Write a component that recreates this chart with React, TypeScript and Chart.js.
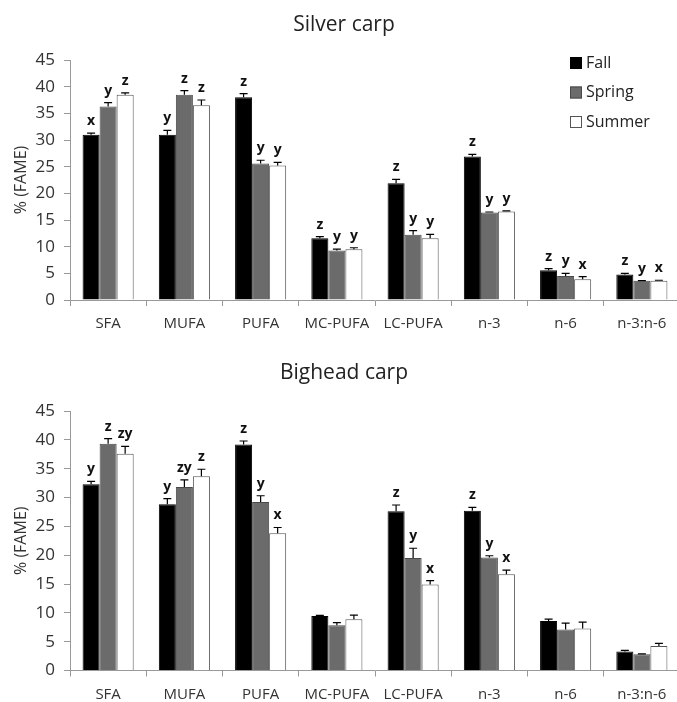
import React, { useEffect, useRef } from 'react';
import { Chart, registerables } from 'chart.js';

Chart.register(...registerables);

const FONT = '"Open Sans", "DejaVu Sans", sans-serif';

const categories = ['SFA', 'MUFA', 'PUFA', 'MC-PUFA', 'LC-PUFA', 'n-3', 'n-6', 'n-3:n-6'];
const seasons = ['Fall', 'Spring', 'Summer'];
const yTicks = [0, 5, 10, 15, 20, 25, 30, 35, 40, 45];

// Silver carp
const silverFall = [31.0, 31.0, 38.0, 11.6, 21.9, 26.9, 5.6, 4.8];
const silverFallErr = [0.3, 0.8, 0.7, 0.3, 0.7, 0.4, 0.3, 0.2];
const silverFallLetters = ['x', 'y', 'z', 'z', 'z', 'z', 'z', 'z'];
const silverSpring = [36.3, 38.5, 25.6, 9.3, 12.25, 16.4, 4.5, 3.6];
const silverSpringErr = [0.7, 0.75, 0.6, 0.25, 0.75, 0.1, 0.5, 0.05];
const silverSpringLetters = ['y', 'z', 'y', 'y', 'y', 'y', 'y', 'y'];
const silverSummer = [38.5, 36.5, 25.2, 9.5, 11.6, 16.6, 3.9, 3.6];
const silverSummerErr = [0.35, 1.0, 0.6, 0.3, 0.7, 0.1, 0.5, 0.1];
const silverSummerLetters = ['z', 'z', 'y', 'y', 'y', 'y', 'x', 'x'];

// Bighead carp
const bigheadFall = [32.3, 28.85, 39.2, 9.45, 27.6, 27.7, 8.6, 3.3];
const bigheadFallErr = [0.5, 0.95, 0.6, 0.1, 1.1, 0.6, 0.3, 0.2];
const bigheadFallLetters = ['y', 'y', 'z', '', 'z', 'z', '', ''];
const bigheadSpring = [39.3, 31.8, 29.2, 7.85, 19.5, 19.6, 7.1, 2.8];
const bigheadSpringErr = [0.9, 1.25, 1.1, 0.45, 1.7, 0.3, 1.1, 0.1];
const bigheadSpringLetters = ['z', 'zy', 'y', '', 'y', 'y', '', ''];
const bigheadSummer = [37.6, 33.7, 23.8, 8.9, 14.9, 16.7, 7.3, 4.25];
const bigheadSummerErr = [1.25, 1.2, 1.0, 0.7, 0.7, 0.7, 1.1, 0.45];
const bigheadSummerLetters = ['zy', 'z', 'x', '', 'x', 'x', '', ''];

const fillColors = ['#000000', '#6b6b6b', '#ffffff'];
const borderColors = ['#000000', '#4a4a4a', '#555555'];

function makeDatasets(values: number[][], errs: number[][], letters: string[][]) {
  return seasons.map((s, i) => ({
    label: s,
    data: values[i],
    errors: errs[i],
    letters: letters[i],
    backgroundColor: fillColors[i],
    borderColor: borderColors[i],
    borderWidth: 1,
    categoryPercentage: 0.67,
    barPercentage: 1.0,
  }));
}

const errorBarPlugin = {
  id: 'errorBars',
  afterDatasetsDraw(chart: any) {
    const ctx = chart.ctx;
    const yScale = chart.scales.y;
    ctx.save();
    chart.data.datasets.forEach((ds: any, i: number) => {
      const meta = chart.getDatasetMeta(i);
      meta.data.forEach((el: any, j: number) => {
        const v = ds.data[j];
        const e = ds.errors[j];
        const yTop = yScale.getPixelForValue(v + e);
        const x = el.x;
        ctx.strokeStyle = '#000';
        ctx.lineWidth = 1.2;
        ctx.beginPath();
        ctx.moveTo(x, el.y);
        ctx.lineTo(x, yTop);
        ctx.moveTo(x - 4, yTop);
        ctx.lineTo(x + 4, yTop);
        ctx.stroke();
        const letter = ds.letters[j];
        if (letter) {
          ctx.fillStyle = '#111';
          ctx.font = `bold 14px ${FONT}`;
          ctx.textAlign = 'center';
          ctx.textBaseline = 'alphabetic';
          ctx.fillText(letter, x, yTop - 8);
        }
      });
    });
    ctx.restore();
  },
};

const insideLegendPlugin = {
  id: 'insideLegend',
  afterDraw(chart: any, _args: any, opts: any) {
    if (!opts || !opts.show) return;
    const ctx = chart.ctx;
    const area = chart.chartArea;
    ctx.save();
    chart.data.datasets.forEach((ds: any, i: number) => {
      const cy = area.top + 3 + i * 29.5;
      const bx = area.right - 110;
      ctx.fillStyle = ds.backgroundColor;
      ctx.fillRect(bx, cy - 6, 12, 12);
      ctx.strokeStyle = ds.borderColor;
      ctx.lineWidth = 1;
      ctx.strokeRect(bx + 0.5, cy - 5.5, 11, 11);
      ctx.fillStyle = '#222';
      ctx.font = `16px ${FONT}`;
      ctx.textAlign = 'left';
      ctx.textBaseline = 'middle';
      ctx.fillText(ds.label, bx + 16, cy);
    });
    ctx.restore();
  },
};

type Props = {
  title: string;
  datasets: any[];
  legend: boolean;
  height: number;
  titlePadTop: number;
  titlePadBottom: number;
  xAxisHeight: number;
};

function BarChart({ title, datasets, legend, height, titlePadTop, titlePadBottom, xAxisHeight }: Props) {
  const ref = useRef<HTMLCanvasElement | null>(null);
  useEffect(() => {
    if (!ref.current) return;
    const chart = new Chart(ref.current, {
      type: 'bar',
      data: { labels: categories, datasets },
      plugins: [errorBarPlugin, insideLegendPlugin],
      options: {
        animation: false,
        responsive: false,
        devicePixelRatio: 1,
        layout: { padding: { left: 8, right: 0, top: 0, bottom: 0 } },
        plugins: {
          legend: { display: false },
          tooltip: { enabled: false },
          title: {
            display: true,
            text: title,
            color: '#222',
            font: { family: FONT, size: 21, weight: 'normal' },
            padding: { top: titlePadTop, bottom: titlePadBottom },
          },
          insideLegend: { show: legend },
        } as any,
        scales: {
          x: {
            grid: { offset: true, drawOnChartArea: false, drawTicks: true, tickLength: 6, color: '#999' },
            border: { color: '#999', width: 1 },
            ticks: {
              font: { family: FONT, size: 15 },
              color: '#333',
              padding: 9,
              maxRotation: 0,
              autoSkip: false,
            },
            afterFit: (s: any) => {
              s.height = xAxisHeight;
            },
          },
          y: {
            min: 0,
            max: 45,
            afterBuildTicks: (s: any) => {
              s.ticks = yTicks.map((v) => ({ value: v }));
            },
            ticks: { font: { family: FONT, size: 17 }, color: '#333', padding: 9 },
            grid: { drawOnChartArea: false, drawTicks: true, tickLength: 6, color: '#999' },
            border: { color: '#999', width: 1 },
            title: {
              display: true,
              text: '% (FAME)',
              color: '#333',
              font: { family: FONT, size: 16 },
              padding: { top: 4, bottom: 4 },
            },
            afterFit: (s: any) => {
              s.width = 62;
            },
          },
        },
      } as any,
    });
    return () => chart.destroy();
  }, []);
  return <canvas ref={ref} width={680} height={height} style={{ display: 'block' }} />;
}

export default function App() {
  const silver = makeDatasets(
    [silverFall, silverSpring, silverSummer],
    [silverFallErr, silverSpringErr, silverSummerErr],
    [silverFallLetters, silverSpringLetters, silverSummerLetters]
  );
  const bighead = makeDatasets(
    [bigheadFall, bigheadSpring, bigheadSummer],
    [bigheadFallErr, bigheadSpringErr, bigheadSummerErr],
    [bigheadFallLetters, bigheadSpringLetters, bigheadSummerLetters]
  );
  return (
    <div
      style={{
        position: 'absolute',
        left: 0,
        top: 0,
        width: 677,
        height: 702,
        overflow: 'hidden',
        background: '#fff',
      }}
    >
      <BarChart
        title="Silver carp"
        datasets={silver}
        legend={true}
        height={340}
        titlePadTop={12.4}
        titlePadBottom={22.4}
        xAxisHeight={40}
      />
      <BarChart
        title="Bighead carp"
        datasets={bighead}
        legend={false}
        height={362}
        titlePadTop={20.4}
        titlePadBottom={25.4}
        xAxisHeight={31.5}
      />
    </div>
  );
}
